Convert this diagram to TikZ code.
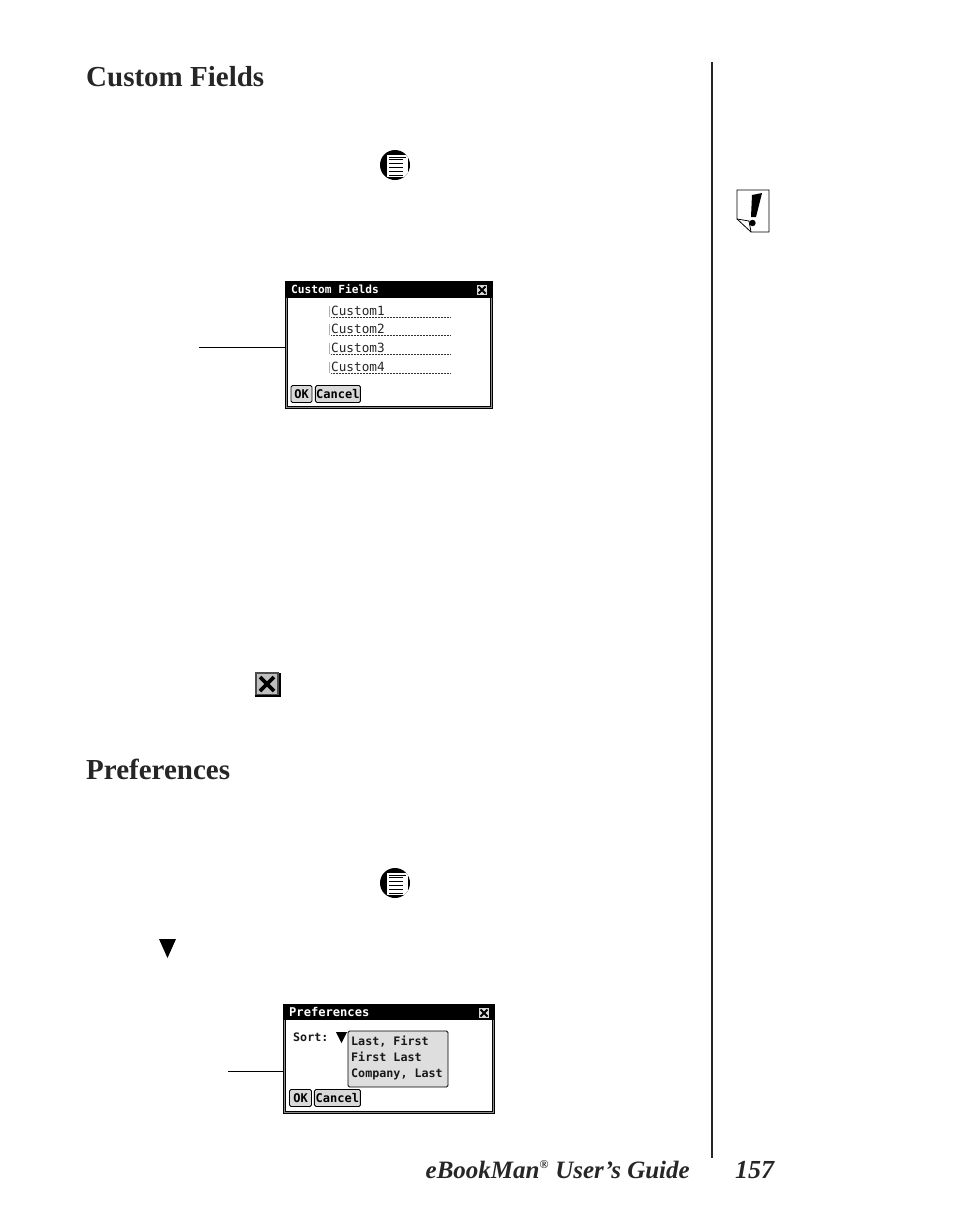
\documentclass[tikz,border=0pt]{standalone}
\usepackage{fontspec}
\setmainfont{Liberation Serif}
\newfontfamily\screenfont{DejaVu Sans Mono}
\usetikzlibrary{positioning}
\usetikzlibrary{arrows.meta}
\tikzset{
  heading/.style={anchor=base west, inner sep=0pt, font=\fontsize{29}{31}\selectfont\bfseries, text=black!85},
  dialog/.style={draw, double=black!45, double distance=1pt, line width=0.9pt, fill=white, inner sep=0pt},
  titletext/.style={anchor=base west, inner sep=0pt, text=white, font=\screenfont\fontsize{#1}{12}\selectfont\bfseries},
  closebox/.style={draw=black, fill=black!15, line width=0.7pt, inner sep=0pt, minimum size=#1},
  screentext/.style={anchor=base west, inner sep=0pt, text=black!90, font=\screenfont\fontsize{11.7}{13}\selectfont\bfseries},
  fieldtext/.style={anchor=base west, inner sep=0pt, text=black!85, font=\screenfont\fontsize{12.7}{13}\selectfont},
  okbutton/.style={draw, rounded corners=1.5pt, fill=black!15, line width=0.9pt, inner sep=0pt, font=\screenfont\fontsize{12}{13}\selectfont\bfseries},
  leader/.style={line width=0.7pt},
  menuicon/.style={circle, fill=black, inner sep=0pt, minimum size=30pt}
}
\begin{document}
\begin{tikzpicture}[x=1pt,y=-1pt]

      \useasboundingbox (0,0) rectangle (954,1205);

      % page rule and headings
      \coordinate (ruletop) at (712,62);
      \coordinate (rulebot) at (712,1158);
      \draw[line width=2.4pt, black!85] (ruletop) -- (rulebot);

      \node[heading] (head1) at (86,86) {Custom Fields};
      \node[heading] (head2) at (86,779) {Preferences};

      % menu icons
      \foreach \n/\y in {icona/165,iconb/883} {
        \node[menuicon] (\n) at (395,\y) {};
        \begin{scope}
          \clip (395,\y) circle (15pt);
          \fill[white] (387,\y-10) rectangle (408,\y+12);
        \end{scope}
        \foreach \k in {-6,-2,2,6,10}
          \draw[line width=1pt] (389,\y+\k) -- (403,\y+\k);
        \draw[line width=0.6pt] (389,\y-8) -- (406,\y-8);
      }

      % note icon
      \coordinate (n1) at (737,190);
      \coordinate (n2) at (769,190);
      \coordinate (n3) at (769,232);
      \coordinate (n4) at (751,232);
      \coordinate (n5) at (737,219);
      \draw[line width=0.8pt, fill=white] (n1) -- (n2) -- (n3) -- (n4) -- (n5) -- cycle;
      \draw[line width=0.8pt] (n5) -- (749,221) -- (n4);
      \fill[black] (752,195) -- (762,193) -- (756,217) -- (751,217) -- cycle;
      \fill[black] (752.5,223) circle (3.2pt);

      % stand-alone close button and arrow
      \node[closebox=22pt, draw=black!70, line width=1.6pt, fill=black!25] (xbtn) at (267,684) {};
      \draw[black, line width=1.6pt] (255,696) -- (280,696) -- (280,673);
      \draw[line width=3.8pt] (260,677) -- (274,691) (274,677) -- (260,691);
      \fill[black] (159,939) -- (176,939) -- (167.5,958) -- cycle;

      % first dialog
      \node[dialog, minimum width=205pt, minimum height=125pt] (dlg1) at (389,345) {};
      \fill[black] (286,282) rectangle (492,298);
      \node[titletext=11.2] (t1) at (291,293) {Custom Fields};
      \node[closebox=11pt] (x1) at (482,290) {};
      \draw[line width=2pt] (478.5,286.5) -- (485.5,293.5) (485.5,286.5) -- (478.5,293.5);
      \foreach \i/\y in {1/315,2/333,3/352,4/371} {
        \node[fieldtext] (f\i) at (331,\y) {Custom\i};
        \draw[line width=0.5pt, black!80, dash pattern=on 0.7pt off 0.8pt] (331,\y+2) -- (450,\y+2);
        \draw[black!30, line width=1.2pt] (329.5,\y-9) -- (329.5,\y+2);
      }
      \node[okbutton, minimum width=21pt, minimum height=17pt] (ok1) at (301.5,394) {OK};
      \node[okbutton, right=2.5pt of ok1, minimum width=45pt, minimum height=17pt] (cn1) {Cancel};

      \coordinate (lead1) at (199,347);
      \draw[leader] (lead1) -- (lead1 -| dlg1.west);

      % second dialog
      \node[dialog, minimum width=209pt, minimum height=107pt] (dlg2) at (389,1059) {};
      \fill[black] (284,1005) rectangle (494,1020);
      \node[titletext=12.1] (t2) at (289,1016) {Preferences};
      \node[closebox=11pt] (x2) at (484,1013) {};
      \draw[line width=2pt] (480.5,1009.5) -- (487.5,1016.5) (487.5,1009.5) -- (480.5,1016.5);
      \node[screentext] (sort) at (293,1041) {Sort:};
      \fill[black] (336,1032) -- (347,1032) -- (341.5,1043) -- cycle;
      \node[draw, rounded corners=1.5pt, line width=0.9pt, fill=black!13, minimum width=100pt, minimum height=56pt, inner sep=0pt] (list) at (398,1059) {};
      \node[screentext] (l1) at (351,1045) {Last, First};
      \node[screentext] (l2) at (351,1061) {First Last};
      \node[screentext] (l3) at (351,1077) {Company, Last};
      \node[okbutton, minimum width=22pt, minimum height=17pt] (ok2) at (300.5,1098) {OK};
      \node[okbutton, right=2pt of ok2, minimum width=46pt, minimum height=17pt] (cn2) {Cancel};

      \coordinate (lead2) at (228,1071);
      \draw[leader] (lead2) -- (lead2 -| dlg2.west);

      % footer
      \node[anchor=base east, inner sep=0pt, font=\fontsize{25}{27}\selectfont\bfseries\itshape, text=black!85] (guide) at (690,1178) {eBookMan\textsuperscript{\fontsize{12}{12}\selectfont\textregistered} User’s Guide};
      \node[anchor=base west, inner sep=0pt, font=\fontsize{26}{28}\selectfont\bfseries\itshape, text=black!85] (page) at (735,1178) {157};

\end{tikzpicture}
\end{document}
